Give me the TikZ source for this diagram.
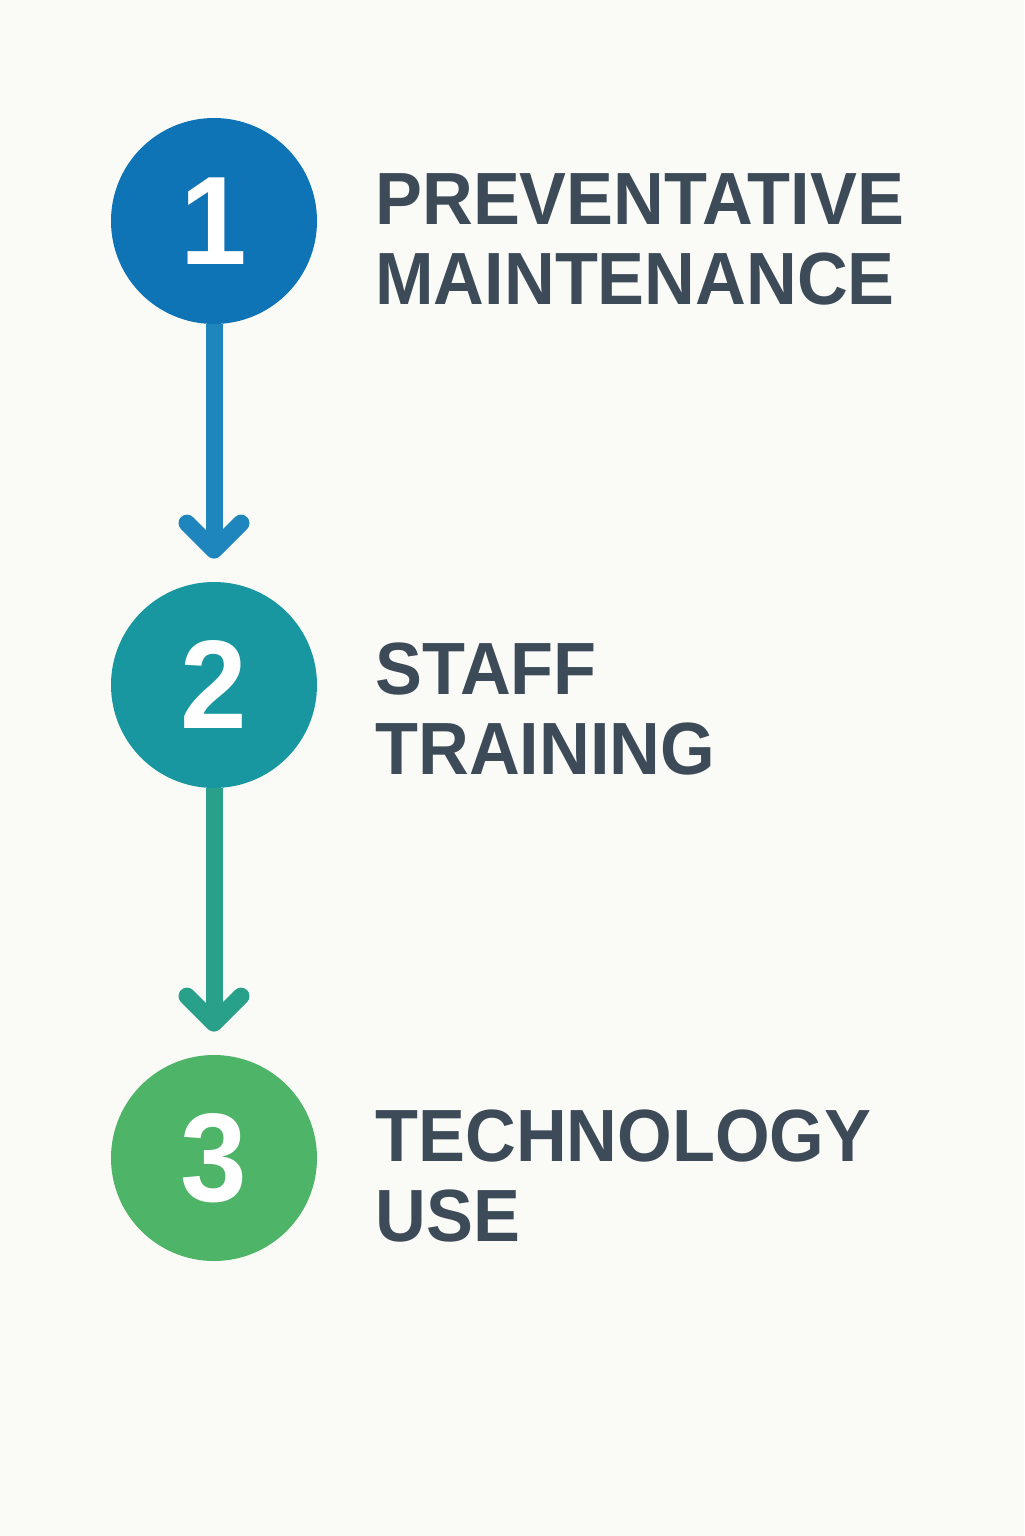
\documentclass[tikz,border=0pt]{standalone}
\usepackage{fontspec}
\setmainfont{Liberation Sans}[FakeStretch=0.95]
\usepackage{tikz}
\usetikzlibrary{arrows.meta}
\usepackage{xcolor}
\definecolor{ColBg}{RGB}{250,250,246}
\definecolor{ColA}{RGB}{14,116,181}
\definecolor{ColB}{RGB}{24,151,160}
\definecolor{ColC}{RGB}{78,180,104}
\definecolor{ColAB}{RGB}{30,133,189}
\definecolor{ColBC}{RGB}{41,160,138}
\definecolor{ColText}{RGB}{61,75,89}
\tikzstyle{NodeStep}=[circle,inner sep=0pt,minimum size=103pt,text=white,
font=\fontsize{63}{63}\selectfont\bfseries]
\tikzstyle{LabelStep}=[anchor=north west,inner sep=0pt,align=left,text=ColText,
font=\fontsize{37}{40}\selectfont\bfseries]
\tikzstyle{EdgeStep}=[line width=8.5pt,shorten >=11.5pt,
-{Straight Barb[length=13.5pt,width=27pt,round]}]

\begin{document}
\begin{tikzpicture}[x=0.5pt,y=-0.5pt]
        \fill[ColBg](0,0)rectangle(1024,1536);
        \useasboundingbox(0,0)rectangle(1024,1536);
        \node[NodeStep,fill=ColA](c1)at(214,221){1};
        \node[NodeStep,fill=ColB](c2)at(214,685){2};
        \node[NodeStep,fill=ColC](c3)at(214,1158){3};
        \node[LabelStep](t1)at(375,173){PREVENTATIVE\\MAINTENANCE};
        \node[LabelStep](t2)at(375,642){STAFF\\TRAINING};
        \node[LabelStep](t3)at(375,1109){TECHNOLOGY\\USE};
        \draw[EdgeStep,ColAB](c1)--(c2);
        \draw[EdgeStep,ColBC](c2)--(c3);
    \end{tikzpicture}
\end{document}
